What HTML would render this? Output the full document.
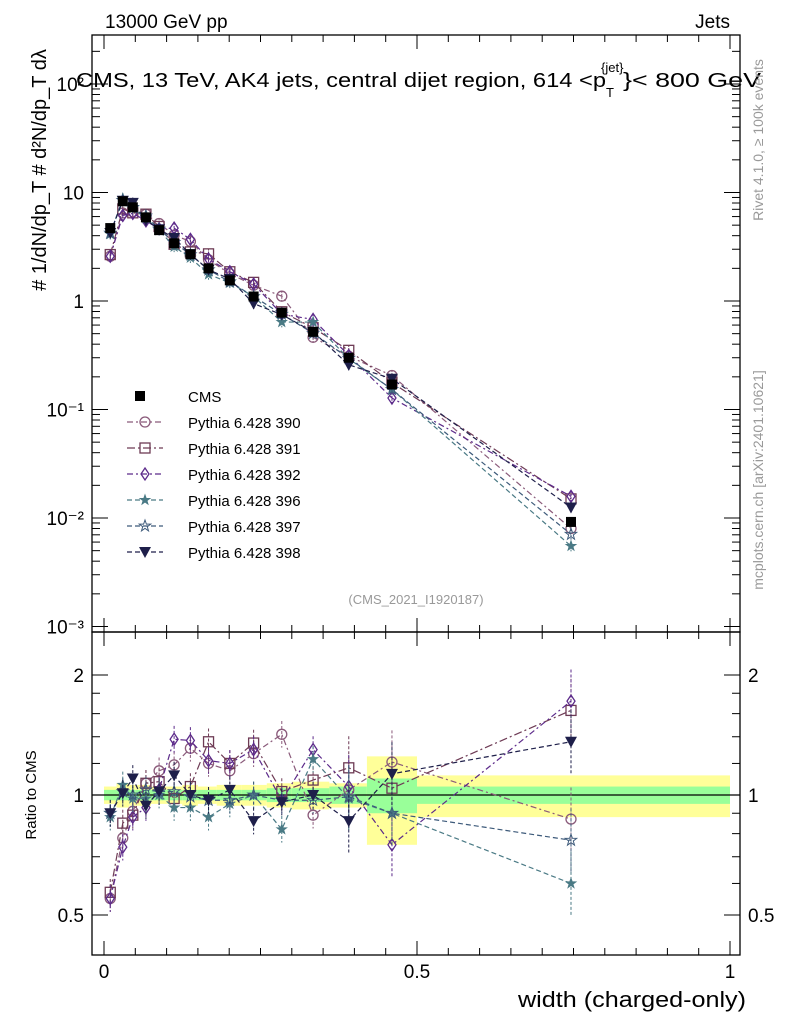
<!DOCTYPE html>
<html><head><meta charset="utf-8"><style>
body{margin:0;background:#fff}
svg{display:block;font-family:"Liberation Sans",sans-serif}
</style></head><body>
<svg id="c" width="786" height="1024" viewBox="0 0 786 1024" xmlns="http://www.w3.org/2000/svg">
<text x="105" y="28" font-size="19">13000 GeV pp</text>
<text x="730" y="28" font-size="19" text-anchor="end">Jets</text>
<text x="76" y="87" font-size="20" textLength="530" lengthAdjust="spacingAndGlyphs">CMS, 13 TeV, AK4 jets, central dijet region, 614 &lt;p</text>
<text x="606" y="97" font-size="13">T</text>
<text x="601" y="72" font-size="13">{jet}</text>
<text x="623" y="87" font-size="20" textLength="138" lengthAdjust="spacingAndGlyphs">}&lt; 800 GeV</text>
<text transform="translate(46,170) rotate(-90)" font-size="20" text-anchor="middle">#  1/dN/dp_T  # d²N/dp_T dλ</text>
<text transform="translate(763,140) rotate(-90)" font-size="14" fill="#999" text-anchor="middle">Rivet 4.1.0, ≥ 100k events</text>
<text transform="translate(763,480) rotate(-90)" font-size="14" fill="#999" text-anchor="middle">mcplots.cern.ch [arXiv:2401.10621]</text>
<text x="416" y="604" font-size="13" fill="#999" text-anchor="middle">(CMS_2021_I1920187)</text>
<text transform="translate(36,795) rotate(-90)" font-size="15" text-anchor="middle">Ratio to CMS</text>
<text x="518" y="1007" font-size="22" textLength="228" lengthAdjust="spacingAndGlyphs">width (charged-only)</text>
<g id="bands"></g><g id="axes"></g><g id="series"></g><g id="legend"></g>
</svg>
<script>
const binLo=[0,0.02,0.04,0.05,0.075,0.1,0.125,0.15,0.18,0.22,0.26,0.30,0.36,0.42,0.5];
const binHi=[0.02,0.04,0.05,0.075,0.1,0.125,0.15,0.18,0.22,0.26,0.30,0.36,0.42,0.5,1.0];
const xCenters=[0.01,0.03,0.046,0.067,0.088,0.112,0.138,0.167,0.201,0.239,0.284,0.334,0.391,0.460,0.746];
const cms=[4.7,8.3,7.3,5.9,4.5,3.4,2.7,2.0,1.55,1.1,0.78,0.52,0.30,0.17,0.0092];
const statBand=[0.03,0.03,0.03,0.03,0.03,0.03,0.03,0.03,0.03,0.03,0.04,0.04,0.05,0.10,0.05];
const totBand=[0.05,0.07,0.06,0.06,0.05,0.05,0.06,0.05,0.06,0.06,0.07,0.08,0.07,0.25,0.12];
const r390=[0.55,0.78,0.91,1.07,1.15,1.19,1.31,1.2,1.15,1.27,1.42,0.89,1.03,1.21,0.87];
const r391=[0.57,0.85,0.89,1.07,1.08,0.98,1.05,1.36,1.2,1.35,1.02,1.09,1.17,1.04,1.63];
const r392=[0.55,0.74,0.88,0.93,1.03,1.38,1.37,1.22,1.2,1.3,0.97,1.3,1.05,0.75,1.72];
const r396=[0.88,1.06,0.98,0.98,1.0,0.93,0.93,0.88,0.95,1.0,0.82,1.23,0.98,0.9,0.6];
const r397=[0.9,1.02,1.0,1.03,1.02,1.02,0.99,0.97,0.97,1.0,0.97,0.97,0.99,0.9,0.77];
const r398=[0.9,1.01,1.1,0.94,1.02,1.12,1.0,0.97,1.03,0.86,0.96,1.0,0.86,1.13,1.36];
const yTickLabels=["10⁻³","10⁻²","10⁻¹","1","10","10²"];
const NS="http://www.w3.org/2000/svg";
const X=v=>104+626*v;
const Y=v=>301-108.5*Math.log10(v);
const R=v=>795-120*Math.log2(v);
function mk(p,t,a){const e=document.createElementNS(NS,t);for(const k in a)e.setAttribute(k,a[k]);p.appendChild(e);return e;}
const ax=document.getElementById('axes'),bd=document.getElementById('bands'),se=document.getElementById('series'),lg=document.getElementById('legend');
for(let i=0;i<binLo.length;i++){
 let b=mk(bd,'rect',{x:X(binLo[i]),y:R(1+totBand[i]),width:X(binHi[i])-X(binLo[i]),height:R(1-totBand[i])-R(1+totBand[i]),fill:'#ffff99'});
 
 
 let g=mk(bd,'rect',{x:X(binLo[i]),y:R(1+statBand[i]),width:X(binHi[i])-X(binLo[i]),height:R(1-statBand[i])-R(1+statBand[i]),fill:'#99ff99'});
 
 
}
mk(ax,'line',{x1:92,x2:740,y1:R(1),y2:R(1),stroke:'#000','stroke-width':1.2});
let f1=mk(ax,'rect',{x:92,y:35,width:648,height:597,fill:'none',stroke:'#000','stroke-width':1.3});


let f2=mk(ax,'rect',{x:92,y:632,width:648,height:323,fill:'none',stroke:'#000','stroke-width':1.3});


for(let k=0;k<=20;k++){const v=k*0.05,L=(k%10==0)?14:7,x=X(v);
 for(const [y0,d] of [[35,1],[632,-1],[632,1],[955,-1]]) mk(ax,'line',{x1:x,x2:x,y1:y0,y2:y0+d*L,stroke:'#000'});
}
[["0",0],["0.5",0.5],["1",1]].forEach(([t,v])=>{let e=mk(ax,'text',{x:X(v),y:978,'font-size':19,'text-anchor':'middle'});e.textContent=t;
 
 });
for(let d=-3;d<=2;d++){for(let m=1;m<10;m++){const v=m*Math.pow(10,d),y=Y(v);if(y<35||y>632)continue;const L=m==1?16:8;
 mk(ax,'line',{x1:92,x2:92+L,y1:y,y2:y,stroke:'#000'});mk(ax,'line',{x1:740,x2:740-L,y1:y,y2:y,stroke:'#000'});}
 let e=mk(ax,'text',{x:84,y:Y(Math.pow(10,d))+7,'font-size':19,'text-anchor':'end'});e.textContent=yTickLabels[d+3];
 
 }
[0.5,0.6,0.7,0.8,0.9,1,1.2,1.4,1.6,1.8,2].forEach(v=>{const y=R(v),L=(v==0.5||v==1||v==2)?16:8;
 mk(ax,'line',{x1:92,x2:92+L,y1:y,y2:y,stroke:'#000'});mk(ax,'line',{x1:740,x2:740-L,y1:y,y2:y,stroke:'#000'});});
[["2",2],["1",1],["0.5",0.5]].forEach(([t,v])=>{for(const [x,a] of [[84,'end'],[748,'start']]){let e=mk(ax,'text',{x:x,y:R(v)+7,'font-size':19,'text-anchor':a});e.textContent=t;
 
 }});
const series=[
 {n:'Pythia 6.428 390',r:r390,c:'#8a5a7a',m:'circle',d:'6,3,2,3'},
 {n:'Pythia 6.428 391',r:r391,c:'#6e3b55',m:'square',d:'8,3,2,3'},
 {n:'Pythia 6.428 392',r:r392,c:'#5c2a8a',m:'diamond',d:'6,3,2,3'},
 {n:'Pythia 6.428 396',r:r396,c:'#4a7a85',m:'star',d:'5,3'},
 {n:'Pythia 6.428 397',r:r397,c:'#3d5a7a',m:'star2',d:'5,3'},
 {n:'Pythia 6.428 398',r:r398,c:'#1e1f4a',m:'tri',d:'5,3'}];
function marker(p,type,x,y,c){
 if(type=='circle')return mk(p,'circle',{cx:x,cy:y,r:5,fill:'none',stroke:c,'stroke-width':1.3});
 if(type=='square')return mk(p,'rect',{x:x-5,y:y-5,width:10,height:10,fill:'none',stroke:c,'stroke-width':1.3});
 if(type=='diamond')return mk(p,'polygon',{points:`${x},${y-6} ${x+4},${y} ${x},${y+6} ${x-4},${y}`,fill:'none',stroke:c,'stroke-width':1.3});
 if(type=='tri')return mk(p,'polygon',{points:`${x-6},${y-5} ${x+6},${y-5} ${x},${y+6}`,fill:c});
 if(type=='cms')return mk(p,'rect',{x:x-5,y:y-5,width:10,height:10,fill:'#000'});
 const s=type=='star'?5:6,pts=[];for(let k=0;k<10;k++){const a=-Math.PI/2+k*Math.PI/5,rr=k%2?s*0.4:s;pts.push((x+rr*Math.cos(a)).toFixed(1)+','+(y+rr*Math.sin(a)).toFixed(1));}
 return mk(p,'polygon',{points:pts.join(' '),fill:type=='star'?c:'none',stroke:c,'stroke-width':1});
}
series.forEach(s=>{
 const g=mk(se,'g',{});
 
 
 const top=s.r.map((r,i)=>cms[i]*r);
 mk(g,'polyline',{points:top.map((v,i)=>X(xCenters[i])+','+Y(v)).join(' '),fill:'none',stroke:s.c,'stroke-dasharray':s.d,'stroke-width':1.2});
 mk(g,'polyline',{points:s.r.map((v,i)=>X(xCenters[i])+','+R(v)).join(' '),fill:'none',stroke:s.c,'stroke-dasharray':s.d,'stroke-width':1.2});
 top.forEach((v,i)=>{const x=X(xCenters[i]);mk(g,'line',{x1:x,x2:x,y1:Y(v*1.12),y2:Y(v/1.12),stroke:s.c,'stroke-dasharray':'2,1'});marker(g,s.m,x,Y(v),s.c);});
 s.r.forEach((v,i)=>{const x=X(xCenters[i]),e=i>=12?0.2:0.08;mk(g,'line',{x1:x,x2:x,y1:R(v*(1+e)),y2:R(v/(1+e)),stroke:s.c,'stroke-dasharray':'3,2'});marker(g,s.m,x,R(v),s.c);});
});
cms.forEach((v,i)=>{const m=marker(se,'cms',X(xCenters[i]),Y(v),'#000');
 
 });
const l0=mk(lg,'g',{});marker(l0,'cms',140,396,'#000');
let t0=mk(l0,'text',{x:188,y:402,'font-size':15});t0.textContent='CMS';


series.forEach((s,i)=>{const y=422+26*i,g=mk(lg,'g',{});
 
 
 mk(g,'line',{x1:127,x2:163,y1:y,y2:y,stroke:s.c,'stroke-dasharray':s.d,'stroke-width':1.2});
 marker(g,s.m,145,y,s.c);
 const t=mk(g,'text',{x:188,y:y+6,'font-size':15});t.textContent=s.n;});
</script>
</body></html>
